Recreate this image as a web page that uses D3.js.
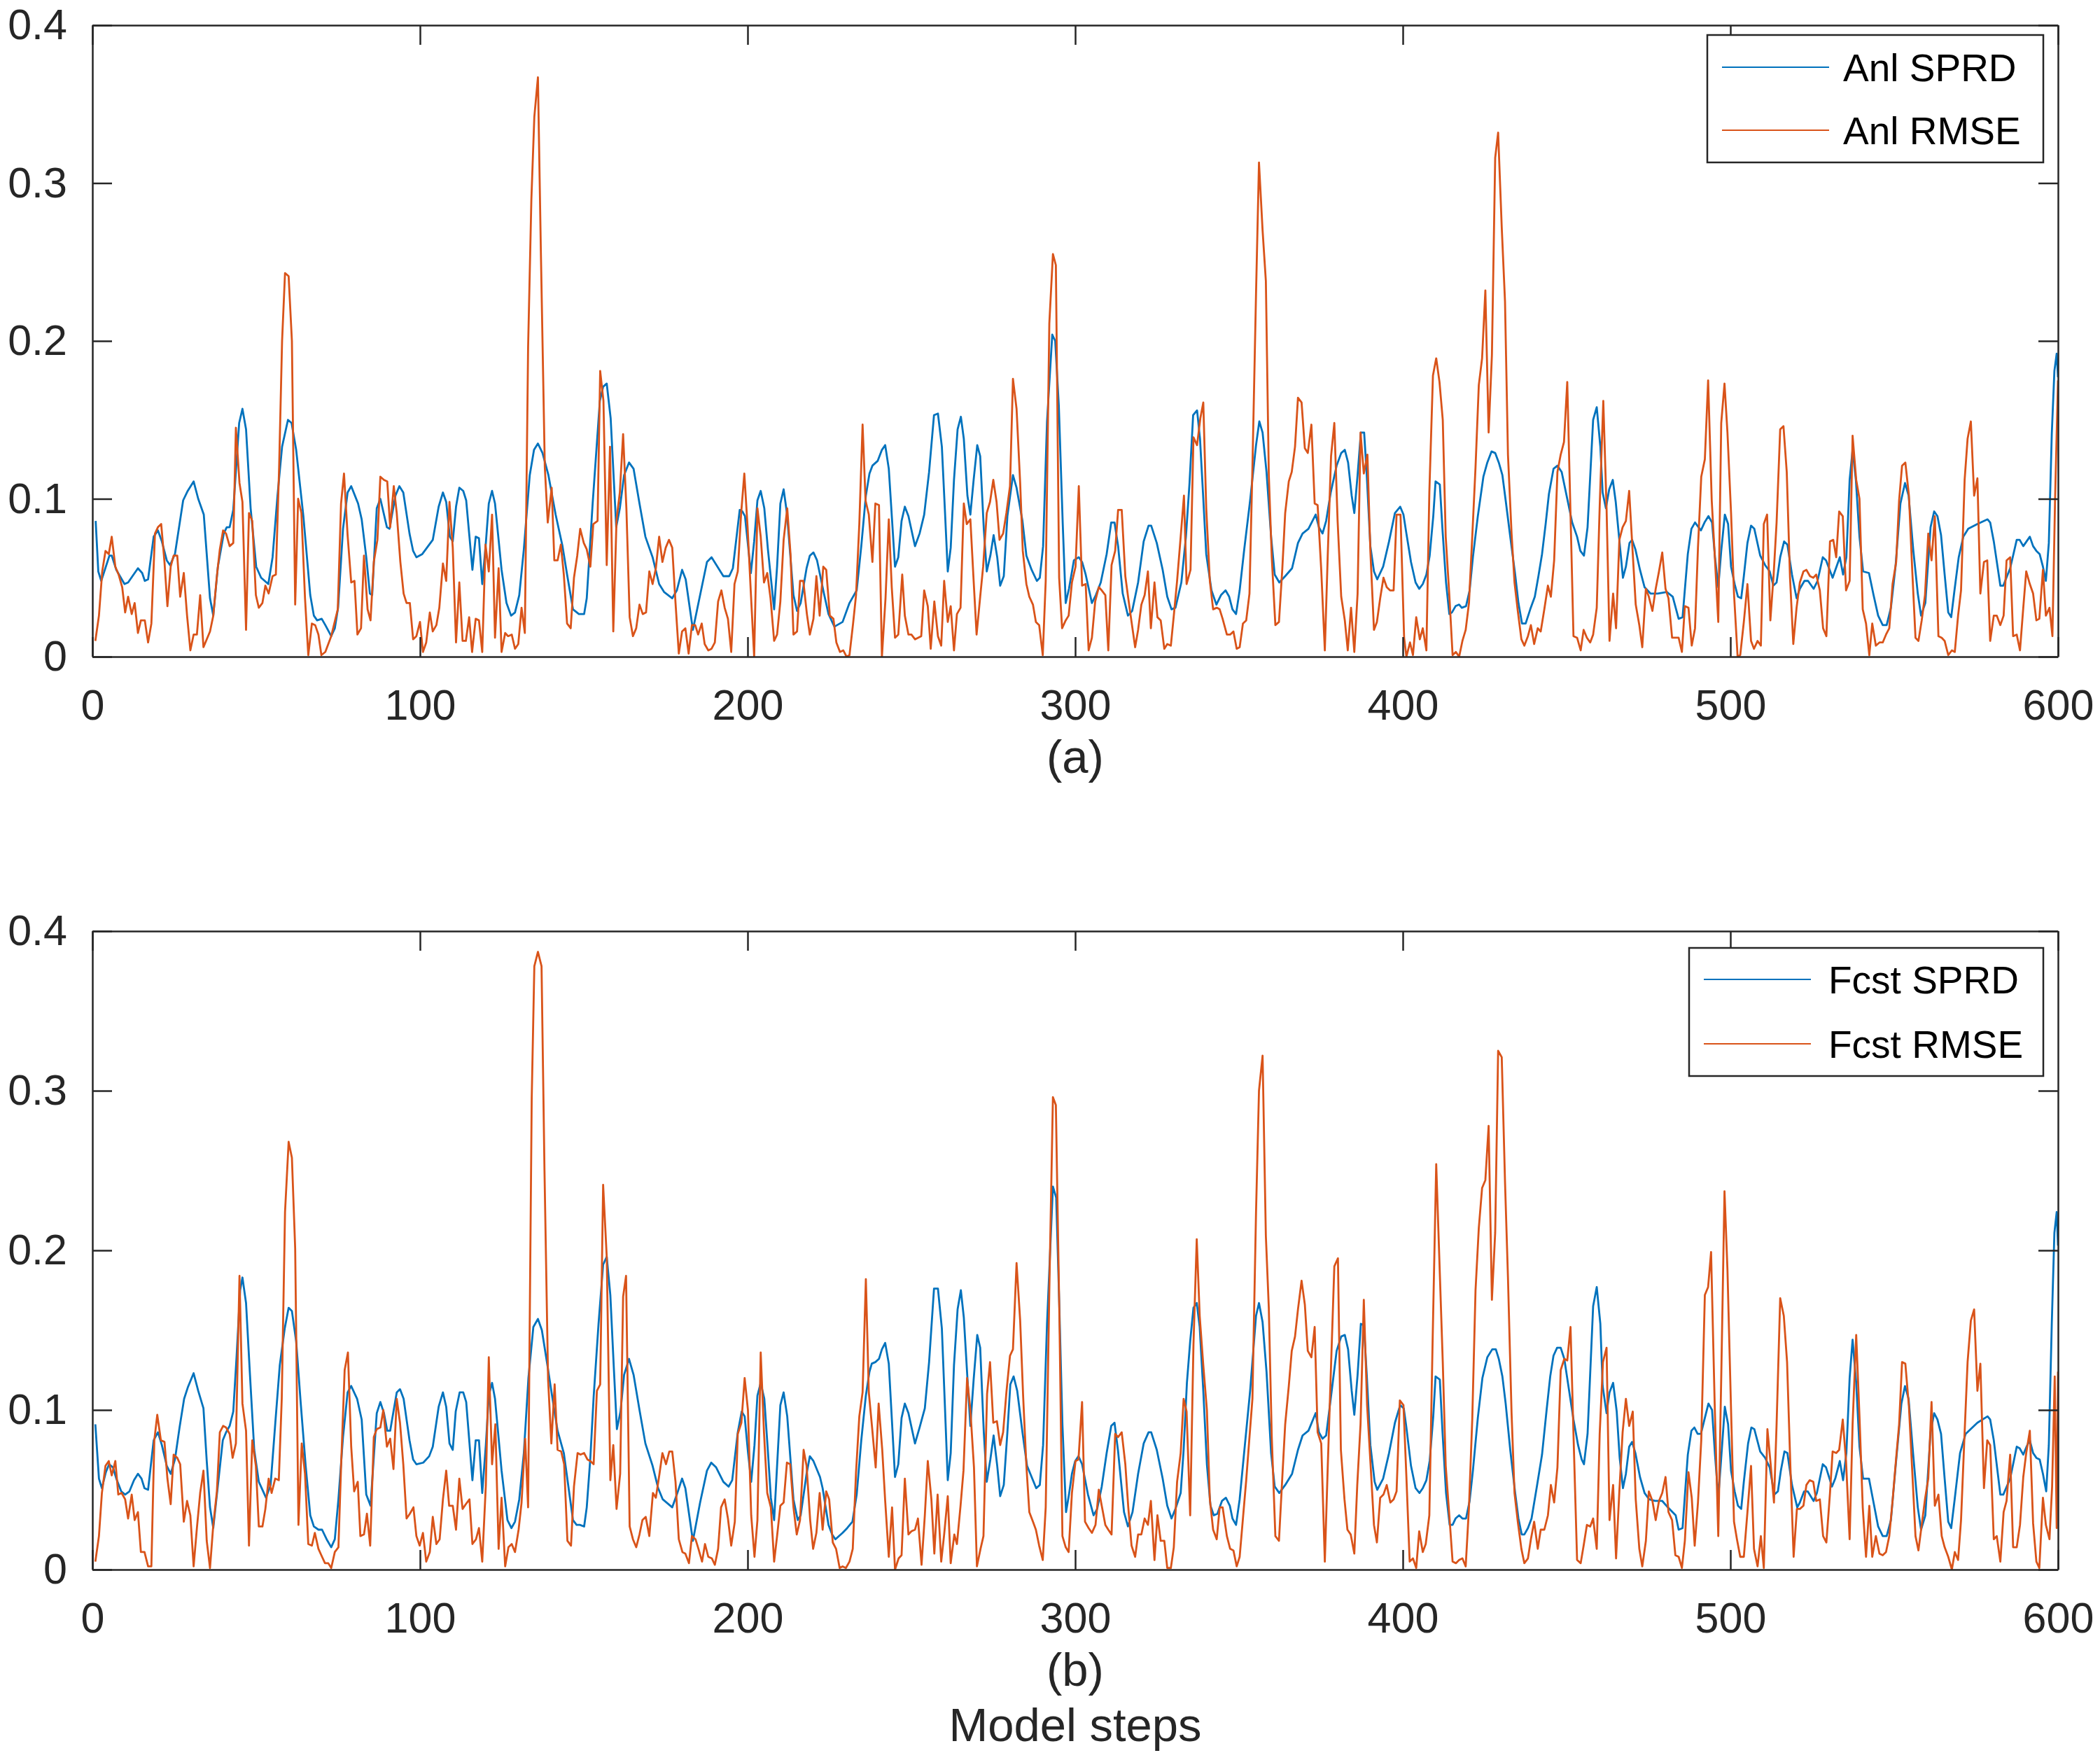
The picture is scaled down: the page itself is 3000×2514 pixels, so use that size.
<!DOCTYPE html>
<html>
<head>
<meta charset="utf-8">
<script src="https://cdn.jsdelivr.net/npm/d3@7"></script>
<style>
  body { margin: 0; background: #fff; }
  text { font-family: "Liberation Sans", Arial, Helvetica, sans-serif; }
</style>
</head>
<body>
<div id="chart"></div>
<script>
// tick values
var xTicks = [0, 100, 200, 300, 400, 500, 600];
var yTicks = [0, 0.1, 0.2, 0.3, 0.4];
var panelLabels = ["(a)", "(b)"];
var legendA = ["Anl SPRD", "Anl RMSE"];
var legendB = ["Fcst SPRD", "Fcst RMSE"];
var xTitle = "Model steps";

// [model step, value]
var anlSprd = [[1,0.086],[1.8,0.054],[2.7,0.048],[5.2,0.064],[5.9,0.064],[7.3,0.055],[9.8,0.046],[10.9,0.047],[13.9,0.056],[15.2,0.053],[16,0.048],[17,0.049],[18.7,0.076],[20,0.080],[21.2,0.073],[22.7,0.061],[23.7,0.058],[25.2,0.065],[27.7,0.099],[29.1,0.105],[30.9,0.111],[32.3,0.100],[34,0.090],[35.9,0.037],[36.9,0.026],[38.3,0.057],[40.1,0.078],[41,0.082],[41.9,0.082],[43,0.093],[44.8,0.148],[45.8,0.157],[46.9,0.144],[48.3,0.094],[50,0.057],[51.5,0.050],[53.7,0.046],[55,0.063],[56.5,0.102],[57.9,0.133],[59.7,0.150],[60.8,0.148],[62.2,0.131],[64.4,0.089],[66.5,0.039],[67.6,0.026],[68.6,0.023],[70,0.024],[71.1,0.020],[72.9,0.013],[74,0.018],[75,0.031],[76.5,0.081],[77.9,0.104],[79,0.108],[81.1,0.097],[82.2,0.087],[83.6,0.063],[84.7,0.040],[85.4,0.039],[86.8,0.094],[87.9,0.100],[89.9,0.082],[90.7,0.081],[92.5,0.102],[93.7,0.108],[94.9,0.104],[96.8,0.078],[97.9,0.067],[98.9,0.063],[100.7,0.065],[103.9,0.074],[105.7,0.095],[107,0.104],[108,0.098],[109.1,0.076],[110,0.073],[111,0.095],[112,0.107],[113.2,0.105],[114.1,0.099],[116,0.055],[117,0.076],[118,0.075],[119,0.046],[120.1,0.072],[121,0.097],[122,0.105],[122.9,0.097],[124.9,0.055],[126.4,0.034],[127.8,0.026],[129,0.028],[130.3,0.039],[131.7,0.068],[133.5,0.115],[134.8,0.131],[136,0.135],[137.4,0.129],[139.2,0.115],[141.4,0.090],[143.5,0.070],[144.9,0.052],[146.7,0.030],[148.5,0.027],[150.1,0.027],[150.9,0.037],[152.7,0.097],[154.9,0.162],[155.9,0.171],[157,0.173],[158.2,0.151],[159.9,0.082],[161,0.094],[162.3,0.115],[163.8,0.123],[165.2,0.119],[167,0.097],[168.8,0.076],[171,0.063],[173,0.046],[174.5,0.041],[177,0.037],[178.4,0.042],[180,0.055],[181.1,0.049],[183.3,0.017],[185.5,0.039],[187.6,0.060],[189,0.063],[190.5,0.058],[192.6,0.051],[194.4,0.051],[195.5,0.056],[197.6,0.093],[198.4,0.092],[199.2,0.089],[201,0.053],[202,0.073],[203,0.099],[204,0.105],[205.1,0.094],[206.2,0.068],[208.1,0.030],[209,0.057],[210,0.097],[211,0.106],[212,0.091],[214,0.039],[215.1,0.029],[216.2,0.034],[218,0.056],[219,0.064],[220.1,0.066],[221.2,0.061],[223.3,0.040],[224.7,0.027],[226.5,0.019],[229,0.022],[231.1,0.034],[233.3,0.042],[234.7,0.070],[236.1,0.102],[237.2,0.116],[238.1,0.121],[239.7,0.124],[241,0.131],[242,0.134],[243.1,0.119],[245,0.057],[246,0.063],[247,0.086],[248,0.095],[249.1,0.089],[251.1,0.070],[252.5,0.078],[253.9,0.090],[255.4,0.117],[256.9,0.153],[258.1,0.154],[259.3,0.133],[260.2,0.094],[261.1,0.054],[262,0.069],[263,0.112],[264.1,0.144],[265.1,0.152],[266,0.138],[267.1,0.102],[268,0.090],[269,0.112],[270.1,0.134],[271,0.127],[272.1,0.081],[273,0.054],[274.1,0.064],[275.1,0.077],[276.2,0.063],[277.1,0.045],[278.2,0.051],[279.3,0.089],[281,0.115],[282.1,0.107],[283.9,0.086],[285.1,0.064],[286.7,0.055],[288.3,0.048],[289.2,0.050],[290.2,0.070],[291.4,0.149],[293,0.204],[293.9,0.200],[295,0.159],[296.2,0.084],[297.1,0.034],[298.1,0.043],[299.6,0.061],[301.1,0.063],[302.1,0.060],[303.2,0.052],[305.1,0.034],[306.3,0.039],[307.8,0.047],[309.6,0.065],[311,0.085],[312,0.085],[313.1,0.070],[314.5,0.040],[316.1,0.026],[317.4,0.029],[319.2,0.047],[320.9,0.073],[322.4,0.083],[323.2,0.083],[324.9,0.072],[326.7,0.055],[328.1,0.038],[329.4,0.030],[330.6,0.031],[332.4,0.047],[333.8,0.076],[334.9,0.110],[336,0.153],[337.2,0.156],[338.1,0.138],[339,0.104],[340,0.065],[341.6,0.042],[343.1,0.033],[344.5,0.039],[345.9,0.042],[347,0.038],[348,0.030],[349.1,0.027],[350.2,0.042],[351.6,0.068],[353.4,0.099],[355.2,0.134],[356.2,0.149],[357.2,0.142],[358.4,0.117],[359.8,0.076],[360.9,0.052],[362.3,0.047],[364.1,0.051],[366.2,0.056],[368,0.072],[369.4,0.078],[371.2,0.081],[373.4,0.090],[374.4,0.082],[375.5,0.078],[376.6,0.086],[378,0.104],[379.8,0.121],[381.2,0.129],[382.3,0.131],[383.3,0.123],[384.4,0.102],[385.2,0.091],[386.2,0.115],[387.2,0.142],[388.2,0.142],[389,0.115],[390.1,0.070],[391.2,0.054],[392.2,0.049],[394,0.057],[395.8,0.073],[397.6,0.091],[399.2,0.095],[400.2,0.090],[401.1,0.078],[402.5,0.060],[403.9,0.047],[405,0.043],[406.1,0.046],[407.2,0.052],[408.2,0.064],[409.3,0.089],[410,0.111],[411.3,0.109],[412.1,0.081],[413.2,0.047],[414.2,0.027],[415,0.028],[416.1,0.032],[417.2,0.033],[418,0.031],[419.3,0.032],[420.4,0.042],[421.4,0.063],[422.9,0.089],[424.6,0.114],[425.8,0.123],[427.1,0.130],[428.2,0.129],[429.3,0.123],[430.4,0.115],[431.4,0.099],[432.8,0.076],[434.3,0.052],[435.3,0.034],[436.4,0.021],[437.5,0.021],[438.9,0.030],[440.3,0.038],[441.4,0.051],[442.5,0.065],[443.6,0.084],[444.6,0.103],[446,0.119],[447.2,0.121],[448.5,0.117],[450.3,0.099],[451.7,0.085],[453.2,0.076],[454.2,0.067],[455.3,0.064],[456.4,0.082],[458.1,0.150],[459.2,0.158],[460.3,0.133],[461,0.104],[462,0.094],[463,0.106],[464.1,0.112],[465,0.098],[466,0.076],[467.2,0.050],[468.1,0.057],[469.2,0.072],[470,0.074],[471,0.068],[472.4,0.055],[473.8,0.044],[475.6,0.040],[477.8,0.040],[480.6,0.041],[482.4,0.038],[484.2,0.024],[485.4,0.025],[487,0.065],[488.1,0.081],[489.2,0.085],[491,0.080],[492.1,0.085],[493.3,0.089],[494.4,0.085],[495.3,0.063],[496.3,0.044],[497.2,0.067],[498.3,0.090],[499.3,0.084],[500.2,0.057],[501.3,0.046],[502.3,0.038],[503.3,0.037],[504.1,0.051],[505.2,0.072],[506.3,0.083],[507.3,0.081],[509.1,0.064],[510.6,0.058],[512,0.054],[513.1,0.045],[514.1,0.047],[515.2,0.063],[516.4,0.073],[517.4,0.071],[518.8,0.052],[520.2,0.037],[521.2,0.043],[522.6,0.048],[523.7,0.048],[525.4,0.043],[526.6,0.048],[528.2,0.063],[529.2,0.061],[531.2,0.050],[533.4,0.063],[534.4,0.052],[535.4,0.063],[536.4,0.112],[537.3,0.131],[538.3,0.112],[539.4,0.076],[540.5,0.054],[542.3,0.053],[543.7,0.039],[545.1,0.026],[546.5,0.020],[547.7,0.020],[549,0.031],[550.4,0.057],[551.9,0.097],[553.3,0.110],[554.4,0.102],[555.8,0.068],[557.2,0.040],[558.2,0.026],[559.5,0.034],[561.1,0.082],[562.2,0.092],[563.2,0.089],[564.3,0.077],[565.4,0.052],[566.5,0.028],[567.4,0.025],[568.4,0.042],[569.7,0.063],[571.1,0.076],[572.6,0.081],[575.4,0.084],[578.5,0.087],[579.3,0.085],[580.4,0.073],[582.4,0.045],[583.3,0.045],[585.4,0.056],[587.4,0.074],[588.3,0.074],[589.4,0.070],[591.4,0.076],[592.4,0.070],[593.4,0.067],[594.4,0.065],[595.4,0.057],[596.3,0.048],[597.2,0.072],[598.1,0.141],[598.9,0.181],[599.6,0.192],[600,0.177]];

var anlRmse = [[0.9,0.010],[2,0.026],[3,0.054],[4,0.067],[5,0.065],[5.9,0.076],[7,0.057],[8,0.052],[9.1,0.044],[10,0.028],[10.9,0.038],[12,0.027],[12.9,0.034],[13.9,0.015],[14.8,0.023],[16,0.023],[17,0.009],[18,0.021],[19.1,0.078],[20,0.082],[21,0.084],[22,0.060],[22.9,0.032],[23.9,0.057],[24.8,0.064],[25.9,0.064],[26.8,0.038],[27.9,0.053],[28.9,0.026],[29.9,0.004],[30.9,0.014],[31.9,0.014],[32.9,0.039],[33.9,0.006],[35.9,0.016],[36.9,0.026],[38,0.051],[38.9,0.068],[39.9,0.080],[40.8,0.078],[41.9,0.070],[43,0.072],[43.8,0.145],[44.9,0.110],[45.8,0.098],[46.9,0.017],[47.8,0.091],[48.8,0.086],[49.9,0.039],[50.8,0.031],[51.9,0.034],[52.8,0.045],[53.8,0.040],[55,0.051],[56,0.052],[57,0.120],[57.9,0.200],[58.8,0.243],[59.9,0.241],[60.9,0.200],[61.9,0.033],[62.8,0.100],[63.8,0.091],[64.9,0.037],[65.9,0.001],[67,0.021],[68,0.020],[69,0.014],[69.9,0.001],[71.1,0.003],[72.9,0.013],[74.9,0.030],[75.9,0.097],[76.8,0.116],[77.9,0.077],[79,0.047],[80,0.048],[80.9,0.014],[82,0.018],[82.9,0.064],[84,0.030],[84.9,0.023],[85.9,0.060],[87,0.074],[87.9,0.114],[89,0.112],[90,0.111],[90.9,0.082],[92,0.108],[92.9,0.091],[94,0.060],[95,0.040],[95.9,0.034],[96.9,0.034],[97.9,0.011],[98.9,0.013],[100,0.022],[100.9,0.003],[101.9,0.009],[103,0.028],[103.9,0.016],[105,0.020],[105.9,0.031],[107,0.059],[108,0.048],[109,0.098],[110,0.069],[111,0.009],[112,0.047],[113,0.010],[114,0.010],[115,0.025],[115.9,0.003],[117,0.024],[118,0.023],[119,0.003],[120,0.071],[121,0.054],[122,0.090],[122.9,0.012],[124,0.056],[124.9,0.003],[126,0.015],[126.9,0.013],[128,0.014],[129,0.005],[130,0.008],[131,0.031],[132,0.015],[133,0.196],[134,0.290],[134.9,0.342],[136,0.367],[136.9,0.256],[138.1,0.120],[139,0.085],[140.2,0.107],[141,0.061],[142,0.061],[143,0.071],[143.9,0.052],[144.9,0.021],[146,0.018],[147,0.050],[148,0.064],[148.9,0.081],[150,0.072],[150.9,0.068],[152,0.057],[152.9,0.084],[154.2,0.086],[155,0.181],[156,0.162],[157,0.058],[158,0.133],[159,0.016],[160,0.087],[161,0.104],[162,0.141],[163,0.094],[164,0.025],[165,0.013],[166,0.018],[167,0.033],[168,0.027],[169,0.028],[170,0.054],[171,0.046],[172,0.056],[173,0.076],[174,0.060],[175,0.069],[176,0.074],[177,0.069],[178,0.034],[179,0.002],[180,0.016],[181,0.018],[182,0.002],[183,0.020],[184,0.020],[184.9,0.014],[186,0.021],[186.9,0.008],[188,0.004],[189,0.005],[190,0.009],[191,0.035],[192,0.042],[193,0.031],[194,0.024],[195,0.003],[196,0.046],[197,0.054],[198,0.090],[199,0.116],[200,0.082],[201,0.040],[202,0.000],[203,0.094],[204,0.076],[205,0.047],[206,0.053],[207,0.037],[208.1,0.010],[209,0.014],[210,0.035],[211,0.074],[212.1,0.094],[213.1,0.065],[214,0.014],[215.1,0.016],[216,0.048],[217,0.048],[218.1,0.027],[219,0.014],[220.1,0.024],[221,0.051],[222,0.026],[223.1,0.057],[224,0.055],[225.1,0.026],[226.2,0.024],[227.1,0.009],[228.2,0.003],[229.2,0.004],[230.2,0.000],[231.1,0.001],[232.2,0.021],[233.1,0.039],[234.1,0.084],[235.1,0.147],[236,0.099],[237,0.090],[238.1,0.060],[239,0.097],[240.1,0.096],[241,0.000],[242.1,0.037],[243.1,0.087],[244,0.044],[245,0.012],[246,0.014],[247.2,0.052],[248,0.026],[249.1,0.014],[250,0.014],[251.1,0.011],[253,0.013],[253.9,0.042],[255,0.032],[255.9,0.005],[257,0.035],[258.1,0.013],[259.1,0.007],[260,0.048],[261.1,0.022],[262,0.032],[263,0.004],[263.9,0.027],[265,0.031],[266,0.097],[266.9,0.084],[268,0.087],[269,0.048],[269.9,0.014],[271,0.038],[271.9,0.057],[273,0.091],[274,0.098],[275,0.112],[276,0.098],[276.9,0.074],[278,0.078],[279,0.091],[280.1,0.108],[281,0.176],[282.1,0.157],[283.2,0.110],[284,0.067],[285.1,0.046],[286,0.038],[287.1,0.033],[288,0.022],[289,0.020],[290.1,0.001],[291,0.048],[292.1,0.211],[293.2,0.255],[294.1,0.248],[295.1,0.050],[296,0.018],[297.1,0.023],[298,0.026],[299,0.047],[300.1,0.057],[301.1,0.108],[302.1,0.045],[303.2,0.046],[304.1,0.004],[305.1,0.012],[306.1,0.035],[307.2,0.044],[308.1,0.042],[309.2,0.039],[310.1,0.004],[311.1,0.058],[312.2,0.067],[313.1,0.093],[314.2,0.093],[315.3,0.051],[316.2,0.037],[317.2,0.022],[318.3,0.006],[319.2,0.017],[320.2,0.033],[321.2,0.039],[322.2,0.054],[323.1,0.018],[324.2,0.047],[325.1,0.025],[326.1,0.023],[327.2,0.005],[328.1,0.008],[329.2,0.007],[330.1,0.026],[331.1,0.048],[332.2,0.076],[333.2,0.102],[334,0.046],[335.2,0.055],[336.1,0.139],[337.2,0.134],[338.2,0.151],[339.1,0.161],[340,0.094],[341.1,0.048],[342.1,0.030],[343.2,0.031],[344.1,0.030],[345,0.024],[346.3,0.014],[347.3,0.014],[348.3,0.016],[349.3,0.005],[350.2,0.006],[351.2,0.021],[352.2,0.023],[353.2,0.040],[354.1,0.120],[355.2,0.230],[356.1,0.313],[357.2,0.270],[358.2,0.238],[359.1,0.115],[360,0.063],[361.1,0.020],[362.2,0.022],[363.2,0.055],[364.1,0.091],[365.2,0.111],[366.1,0.117],[367.1,0.133],[368,0.164],[369.1,0.161],[370.1,0.132],[371,0.129],[372.1,0.147],[373.1,0.097],[374,0.096],[375.1,0.055],[376.2,0.004],[377.1,0.065],[378.1,0.127],[379.1,0.148],[380.1,0.086],[381.2,0.038],[382.3,0.023],[383.2,0.004],[384.2,0.031],[385.2,0.003],[386.2,0.040],[387.1,0.142],[388.1,0.116],[389.2,0.128],[390.1,0.067],[391.2,0.017],[392.1,0.022],[393.1,0.037],[394.1,0.050],[395.1,0.044],[396.1,0.042],[397.2,0.042],[398.1,0.090],[399.3,0.090],[400.4,0.012],[401.1,0.000],[402.2,0.009],[403.1,0.001],[404.1,0.025],[405.2,0.011],[406.1,0.018],[407.2,0.004],[408.1,0.104],[409.2,0.178],[410.2,0.189],[411.2,0.174],[412.2,0.150],[413.1,0.076],[414.2,0.039],[415.2,0.001],[416.2,0.003],[417.2,0.000],[418.2,0.010],[419.2,0.017],[420.2,0.034],[421.2,0.076],[422.2,0.120],[423.2,0.172],[424.2,0.189],[425.2,0.232],[426.2,0.142],[427.2,0.191],[428.2,0.316],[429.1,0.332],[430.2,0.272],[431.2,0.225],[432.1,0.128],[433.2,0.078],[434.1,0.047],[435.1,0.029],[436.2,0.011],[437.1,0.007],[438.2,0.013],[439.1,0.020],[440.1,0.008],[441.2,0.018],[442.1,0.016],[443.2,0.030],[444.3,0.045],[445.2,0.038],[446.2,0.061],[447.2,0.117],[448.2,0.128],[449.2,0.136],[450.2,0.174],[451.2,0.090],[452.1,0.013],[453.2,0.012],[454.3,0.004],[455.2,0.017],[456.2,0.012],[457.2,0.009],[458.1,0.014],[459.2,0.031],[460.1,0.095],[461.2,0.162],[462.2,0.094],[463.1,0.010],[464.2,0.040],[465.1,0.018],[466.1,0.074],[467.1,0.082],[468.1,0.086],[469.1,0.105],[470.2,0.065],[471.1,0.033],[472.2,0.020],[473.1,0.006],[474.2,0.043],[475.1,0.038],[476.2,0.029],[477.2,0.043],[478.2,0.054],[479.2,0.066],[480.2,0.043],[481.1,0.037],[482.2,0.012],[483.2,0.012],[484.2,0.012],[485.2,0.003],[486.1,0.032],[487.2,0.031],[488.2,0.007],[489.2,0.018],[490.1,0.069],[491.1,0.114],[492.2,0.125],[493.2,0.175],[494.3,0.099],[495.2,0.065],[496.3,0.022],[497.2,0.148],[498.2,0.173],[499.1,0.142],[500.2,0.091],[501.1,0.040],[502.2,0.000],[503,0.001],[504.1,0.022],[505.2,0.046],[506.3,0.010],[507.2,0.005],[508.3,0.010],[509.3,0.007],[510.2,0.084],[511.2,0.090],[512.2,0.023],[513.2,0.052],[514.1,0.085],[515.2,0.144],[516.2,0.146],[517.2,0.117],[518.2,0.050],[519.2,0.008],[520.2,0.031],[521.2,0.047],[522.3,0.054],[523.2,0.055],[524.3,0.051],[525.3,0.050],[526.2,0.052],[527.3,0.042],[528.3,0.018],[529.3,0.013],[530.4,0.073],[531.4,0.074],[532.3,0.063],[533.2,0.092],[534.3,0.089],[535.3,0.042],[536.4,0.048],[537.3,0.140],[538.4,0.112],[539.4,0.100],[540.4,0.030],[541.4,0.021],[542.4,0.001],[543.3,0.021],[544.4,0.007],[545.5,0.009],[546.5,0.009],[547.5,0.014],[548.5,0.018],[549.5,0.046],[550.6,0.060],[551.5,0.099],[552.4,0.121],[553.4,0.123],[554.5,0.102],[555.5,0.055],[556.5,0.012],[557.4,0.010],[558.4,0.023],[559.4,0.039],[560.4,0.078],[561.4,0.061],[562.4,0.089],[563.5,0.013],[564.5,0.012],[565.4,0.010],[566.5,0.001],[567.6,0.004],[568.5,0.003],[569.5,0.026],[570.4,0.042],[571.5,0.112],[572.4,0.138],[573.4,0.149],[574.4,0.102],[575.4,0.113],[576.3,0.040],[577.4,0.060],[578.4,0.061],[579.3,0.010],[580.4,0.026],[581.3,0.026],[582.4,0.020],[583.4,0.026],[584.3,0.061],[585.4,0.063],[586.3,0.013],[587.4,0.014],[588.4,0.004],[589.4,0.031],[590.3,0.054],[591.4,0.046],[592.4,0.040],[593.4,0.023],[594.3,0.024],[595.4,0.055],[596.3,0.026],[597.4,0.031],[598.3,0.013],[599.1,0.099],[600,0.175]];

var fcstSprd = [[0.9,0.091],[2,0.057],[2.9,0.051],[4.1,0.061],[5.1,0.066],[6.3,0.064],[7.3,0.057],[8.8,0.049],[10,0.047],[11.3,0.049],[12.7,0.056],[13.9,0.060],[15,0.057],[15.9,0.051],[17,0.050],[18.7,0.081],[20,0.086],[21.2,0.078],[22.7,0.065],[23.9,0.060],[25.2,0.069],[26.6,0.089],[28,0.107],[29.1,0.114],[30.9,0.123],[32.3,0.112],[33.9,0.101],[34.9,0.068],[35.9,0.039],[36.9,0.026],[38,0.047],[39.8,0.081],[40.8,0.086],[41.9,0.090],[43,0.099],[44,0.133],[45.1,0.175],[45.8,0.183],[46.9,0.167],[48.1,0.122],[49.4,0.075],[50.8,0.055],[53,0.045],[54.4,0.053],[55.8,0.091],[57.2,0.128],[58.7,0.151],[59.9,0.164],[60.9,0.162],[62.2,0.143],[63.6,0.104],[65.1,0.065],[66.5,0.034],[67.6,0.027],[69,0.025],[70.1,0.025],[71.5,0.019],[72.9,0.014],[74,0.019],[75.1,0.044],[76.5,0.083],[77.9,0.111],[79,0.115],[80.8,0.107],[82.2,0.094],[83.6,0.047],[84.9,0.040],[86.8,0.098],[87.9,0.105],[89,0.098],[90,0.087],[90.9,0.087],[92.9,0.111],[93.9,0.113],[95,0.107],[96.8,0.081],[97.9,0.069],[98.9,0.066],[101,0.067],[102.8,0.071],[103.9,0.077],[105.7,0.102],[107,0.111],[108,0.102],[109,0.079],[110,0.075],[110.9,0.099],[112.1,0.111],[113.2,0.111],[114.1,0.105],[116,0.056],[117,0.081],[118,0.081],[119,0.048],[120.1,0.078],[121,0.109],[122,0.117],[122.9,0.107],[124.9,0.062],[126.7,0.031],[127.9,0.026],[129,0.030],[130.3,0.044],[131.7,0.073],[133.1,0.120],[134.6,0.152],[136,0.157],[137.2,0.150],[138.9,0.128],[140.6,0.105],[142,0.087],[143.9,0.073],[145.3,0.052],[146.7,0.031],[147.8,0.028],[148.8,0.028],[150.1,0.027],[150.9,0.039],[152,0.070],[153,0.108],[154.5,0.154],[155.9,0.191],[157,0.196],[158.1,0.172],[159.2,0.125],[160.1,0.088],[161.2,0.099],[162.3,0.122],[163.8,0.132],[165.2,0.122],[167,0.100],[168.8,0.079],[171,0.065],[172.7,0.051],[174.1,0.044],[177,0.039],[178.4,0.047],[180,0.057],[181,0.051],[183.3,0.018],[185.5,0.042],[187.6,0.062],[188.9,0.067],[190.4,0.064],[192.6,0.055],[194.2,0.052],[195.3,0.056],[197,0.086],[198.2,0.099],[199.1,0.096],[200.1,0.074],[201.1,0.055],[202.1,0.078],[203,0.109],[204,0.117],[205.1,0.107],[206.2,0.074],[207.1,0.045],[208.1,0.031],[209,0.065],[210,0.103],[211,0.111],[212.1,0.096],[214,0.044],[215.3,0.031],[216.2,0.034],[218,0.060],[219,0.071],[220.1,0.068],[222.1,0.058],[222.9,0.051],[224.7,0.028],[225.8,0.022],[226.8,0.019],[229,0.023],[230.4,0.026],[232,0.030],[233.3,0.047],[234.7,0.081],[236.1,0.109],[237.2,0.124],[237.9,0.129],[239,0.130],[240.1,0.132],[241,0.138],[242,0.142],[243.1,0.129],[245,0.058],[246,0.066],[247,0.095],[248,0.104],[249.1,0.098],[251.1,0.079],[252.5,0.089],[254.1,0.101],[255.4,0.130],[256.9,0.176],[258.1,0.176],[259.3,0.151],[260.2,0.104],[261.1,0.056],[262,0.073],[263,0.128],[264.1,0.163],[265.1,0.175],[266,0.158],[267.1,0.120],[268,0.090],[269,0.119],[270.1,0.147],[271,0.139],[272.1,0.086],[273,0.055],[274.1,0.069],[275.1,0.084],[276.2,0.065],[277.1,0.046],[278.2,0.053],[279.3,0.086],[280.2,0.116],[281.2,0.121],[282.3,0.112],[283.9,0.086],[285.3,0.065],[286.7,0.058],[288.1,0.051],[289.2,0.053],[290.2,0.078],[291.4,0.154],[293.2,0.240],[294.2,0.233],[295.1,0.169],[296.1,0.091],[297.2,0.036],[298.1,0.047],[299,0.060],[300,0.068],[301,0.071],[302.1,0.066],[303.9,0.047],[305.6,0.034],[306.7,0.038],[308.1,0.052],[309.6,0.073],[311,0.090],[312,0.092],[313.1,0.074],[314.9,0.036],[316.1,0.027],[317.5,0.036],[319.2,0.060],[320.9,0.079],[322.4,0.086],[323.2,0.086],[324.9,0.075],[326.7,0.057],[328.1,0.040],[329.4,0.032],[330.6,0.038],[332.2,0.048],[333.1,0.075],[334.1,0.117],[335.1,0.143],[336.1,0.164],[337.1,0.167],[338,0.152],[339.1,0.112],[340.2,0.066],[341.3,0.040],[342.3,0.034],[343.4,0.035],[344.8,0.043],[346,0.045],[347.2,0.040],[348,0.032],[349.1,0.028],[350.2,0.044],[351.6,0.074],[353.4,0.112],[355.2,0.159],[356.1,0.167],[357.2,0.155],[358.4,0.124],[359.8,0.073],[360.9,0.052],[362.3,0.048],[364.1,0.053],[366.2,0.060],[368,0.075],[369.4,0.084],[371.2,0.087],[373.4,0.098],[374.4,0.086],[375.5,0.082],[376.6,0.084],[378,0.107],[379.8,0.137],[381.2,0.146],[382.3,0.147],[383.3,0.138],[384.4,0.112],[385.2,0.097],[386.2,0.122],[387.2,0.154],[388.1,0.153],[389,0.122],[390.1,0.078],[391.4,0.055],[392.2,0.050],[394,0.057],[395.8,0.073],[397.6,0.092],[399.2,0.103],[400.3,0.101],[401.1,0.089],[402.5,0.065],[403.9,0.051],[405.1,0.048],[406.1,0.051],[407.2,0.056],[408.2,0.068],[409.3,0.096],[410,0.121],[411.3,0.119],[412.1,0.087],[413.2,0.048],[414.3,0.028],[415.2,0.028],[416.1,0.032],[417.2,0.034],[418.2,0.032],[419.3,0.032],[420.4,0.043],[421.4,0.062],[422.9,0.095],[424.3,0.120],[425.8,0.133],[427.3,0.138],[428.4,0.138],[429.3,0.132],[430.4,0.121],[431.4,0.104],[432.8,0.075],[434.3,0.048],[435.3,0.032],[436.3,0.022],[437.1,0.022],[438.2,0.026],[439.3,0.032],[441,0.053],[442.5,0.072],[443.9,0.100],[445,0.121],[446,0.134],[447.1,0.139],[448.2,0.139],[449.3,0.132],[450.7,0.113],[452.1,0.094],[453.5,0.078],[454.6,0.069],[455.3,0.066],[456.4,0.085],[458.1,0.165],[459.2,0.177],[460.3,0.154],[461,0.115],[462.2,0.098],[463.1,0.111],[464.2,0.117],[465.3,0.099],[466.2,0.070],[467.2,0.051],[468.1,0.060],[469.1,0.077],[470,0.080],[471,0.073],[472.4,0.058],[473.8,0.048],[475.2,0.044],[477,0.043],[479.2,0.043],[480.9,0.039],[483.3,0.034],[484.2,0.025],[485.4,0.026],[487,0.072],[488.1,0.087],[489,0.089],[490,0.085],[491,0.085],[492.2,0.095],[493.3,0.104],[494.4,0.100],[495.3,0.072],[496.3,0.045],[497.2,0.070],[498.3,0.102],[499.3,0.091],[500.2,0.062],[501.3,0.049],[502.3,0.040],[503.3,0.038],[504.1,0.055],[505.4,0.079],[506.4,0.089],[507.3,0.088],[509.1,0.074],[510.6,0.070],[512,0.064],[513.4,0.047],[514.5,0.049],[515.4,0.062],[516.5,0.074],[517.4,0.073],[518.8,0.053],[520.4,0.039],[521.2,0.042],[522.5,0.049],[523.6,0.049],[525.4,0.043],[526.4,0.048],[528.2,0.066],[529.2,0.064],[531,0.052],[532,0.057],[533.4,0.068],[534.4,0.056],[535.4,0.073],[536.4,0.120],[537.3,0.144],[538.4,0.117],[539.4,0.077],[540.5,0.057],[542.3,0.057],[543.7,0.042],[545.1,0.027],[546.5,0.021],[547.7,0.021],[549,0.031],[550.4,0.064],[552.2,0.104],[553.3,0.115],[554.4,0.107],[555.8,0.072],[557.2,0.039],[558.2,0.025],[559.5,0.034],[561.1,0.086],[562.2,0.098],[563.2,0.094],[564.3,0.085],[565.4,0.057],[566.5,0.030],[567.4,0.026],[568.4,0.043],[570.1,0.073],[571.8,0.085],[575.4,0.092],[578.5,0.096],[579.3,0.094],[580.4,0.081],[582.4,0.047],[583.3,0.047],[585.4,0.057],[587.4,0.077],[588.3,0.076],[589.4,0.072],[590.4,0.077],[591.4,0.081],[592.4,0.073],[593.4,0.070],[594.4,0.069],[595.4,0.060],[596.4,0.049],[597.2,0.078],[598.1,0.154],[598.9,0.211],[599.6,0.224],[600,0.203]];

var fcstRmse = [[0.9,0.005],[2,0.021],[2.9,0.048],[4,0.065],[5,0.068],[5.9,0.059],[7,0.068],[7.9,0.047],[8.9,0.048],[10,0.044],[10.9,0.032],[12,0.047],[12.9,0.031],[13.9,0.036],[14.8,0.011],[15.9,0.011],[17,0.002],[18,0.002],[18.9,0.081],[19.8,0.097],[20.9,0.081],[22,0.080],[22.9,0.057],[23.9,0.041],[24.8,0.072],[25.9,0.070],[26.8,0.066],[27.9,0.030],[28.9,0.043],[29.9,0.034],[30.9,0.002],[31.9,0.026],[32.9,0.048],[33.9,0.062],[34.9,0.018],[35.9,0.001],[36.9,0.028],[38,0.049],[38.9,0.086],[39.9,0.090],[40.8,0.089],[41.9,0.085],[42.8,0.070],[43.8,0.079],[44.9,0.184],[45.8,0.104],[46.9,0.087],[47.8,0.015],[48.8,0.081],[49.9,0.065],[50.8,0.027],[51.9,0.027],[52.8,0.038],[53.8,0.057],[54.7,0.048],[55.8,0.057],[56.9,0.056],[57.8,0.107],[58.8,0.224],[59.9,0.268],[60.9,0.258],[61.9,0.201],[62.9,0.028],[63.9,0.079],[64.9,0.060],[65.9,0.016],[67,0.015],[67.9,0.023],[69,0.013],[70.1,0.008],[71,0.004],[72,0.004],[72.9,0.001],[74,0.011],[75.1,0.014],[75.9,0.064],[77,0.125],[78,0.136],[79,0.077],[79.9,0.049],[81,0.055],[81.8,0.021],[82.9,0.022],[83.8,0.035],[84.8,0.015],[85.9,0.083],[86.8,0.088],[87.9,0.089],[88.8,0.100],[89.9,0.077],[90.9,0.082],[91.9,0.063],[92.9,0.107],[93.9,0.092],[94.9,0.066],[95.9,0.032],[96.9,0.035],[98,0.039],[98.9,0.021],[99.9,0.015],[100.9,0.023],[101.9,0.005],[103,0.011],[103.9,0.033],[105,0.016],[106,0.019],[107,0.044],[108,0.062],[108.9,0.040],[110,0.040],[111,0.025],[112,0.057],[113,0.038],[114,0.041],[115.1,0.044],[116,0.016],[117.1,0.019],[118,0.026],[119,0.005],[120.1,0.053],[121,0.133],[122,0.066],[123,0.091],[124,0.013],[124.9,0.045],[126,0.002],[127,0.014],[128,0.016],[129,0.011],[130.1,0.025],[131,0.042],[132.1,0.082],[133,0.039],[134.1,0.295],[134.9,0.378],[136,0.387],[137.1,0.378],[138,0.250],[139.1,0.119],[140.1,0.079],[141.1,0.116],[142,0.075],[143.1,0.074],[144,0.066],[145,0.018],[146.1,0.015],[147,0.052],[148.1,0.073],[149,0.072],[150.1,0.073],[151.1,0.069],[152,0.068],[153,0.066],[154,0.112],[155,0.116],[155.9,0.241],[157,0.196],[158.1,0.056],[159,0.078],[160,0.038],[161.1,0.060],[162,0.171],[162.9,0.184],[164,0.027],[165,0.019],[166,0.014],[167,0.022],[167.9,0.031],[168.9,0.033],[170,0.021],[171.1,0.048],[172,0.045],[173.1,0.060],[174,0.073],[175.1,0.066],[176.1,0.074],[177,0.074],[178,0.055],[179,0.019],[180.1,0.011],[181,0.010],[182.1,0.004],[183,0.021],[184.1,0.019],[185,0.013],[186.1,0.005],[187,0.016],[188,0.008],[189.1,0.007],[190,0.003],[191,0.013],[191.9,0.039],[193,0.044],[194,0.032],[195,0.015],[196.1,0.030],[197,0.085],[198.1,0.092],[199.1,0.120],[200.1,0.100],[201.1,0.034],[202.1,0.008],[203,0.031],[204,0.136],[205,0.086],[206,0.048],[207.1,0.039],[208.1,0.005],[209,0.021],[210,0.040],[211,0.042],[212,0.067],[213,0.066],[214,0.039],[215,0.022],[216,0.031],[217.1,0.075],[218,0.065],[219.1,0.031],[220,0.013],[221,0.023],[222,0.048],[222.9,0.025],[224,0.049],[224.9,0.044],[226,0.017],[227,0.013],[228.1,0.001],[229,0.002],[230,0.001],[231.1,0.005],[232.1,0.013],[233.1,0.061],[234.1,0.096],[235.1,0.111],[236.1,0.182],[237,0.111],[238,0.089],[239.1,0.064],[240,0.104],[241.1,0.075],[242,0.043],[243.1,0.008],[244.1,0.039],[245,0.000],[246.1,0.007],[247,0.009],[248,0.057],[249.1,0.022],[250,0.024],[251.1,0.025],[252,0.032],[253.1,0.003],[254.1,0.034],[255,0.068],[256.1,0.044],[257,0.010],[258,0.047],[259.1,0.005],[260,0.022],[261.1,0.046],[262,0.004],[263.1,0.022],[263.9,0.016],[265,0.040],[265.9,0.062],[267,0.120],[268,0.100],[269.1,0.064],[270,0.002],[271.1,0.013],[272,0.021],[273.1,0.110],[274,0.130],[275,0.092],[276.1,0.093],[277.1,0.078],[278,0.086],[279,0.111],[280.1,0.134],[281,0.138],[282.1,0.192],[283.2,0.156],[284.1,0.109],[285.1,0.065],[286,0.036],[287.1,0.030],[288,0.025],[289,0.015],[290.1,0.006],[291,0.039],[292.1,0.175],[293.2,0.296],[294.1,0.291],[295.2,0.156],[296.1,0.021],[297.1,0.014],[298,0.011],[299,0.048],[300.1,0.068],[301,0.069],[302.1,0.105],[303,0.030],[304.1,0.026],[305.1,0.023],[306.2,0.028],[307.2,0.050],[308.1,0.040],[309.2,0.028],[310.1,0.025],[311.1,0.022],[312.2,0.085],[313.1,0.083],[314.2,0.086],[315.3,0.066],[316.2,0.039],[317.2,0.015],[318.3,0.008],[319.2,0.022],[320.2,0.022],[321.2,0.032],[322.2,0.028],[323.1,0.043],[324.2,0.006],[325.1,0.034],[326.1,0.018],[327.2,0.018],[328.1,0.001],[329.2,0.001],[330.1,0.014],[331.1,0.055],[332.2,0.073],[333.1,0.107],[334,0.099],[335.1,0.034],[336.1,0.141],[337.1,0.207],[338,0.159],[339.1,0.128],[340.2,0.100],[341.1,0.044],[342.1,0.025],[343.2,0.019],[344.1,0.039],[345,0.039],[346.3,0.021],[347.3,0.013],[348.3,0.012],[349.3,0.002],[350.2,0.008],[351.2,0.032],[352.2,0.056],[353.2,0.083],[354.1,0.107],[355.2,0.224],[356.1,0.300],[357.2,0.322],[358.2,0.209],[359.1,0.164],[360,0.083],[361.1,0.021],[362.2,0.018],[363.2,0.057],[364.1,0.091],[365.2,0.115],[366.1,0.137],[367.1,0.146],[368,0.163],[369.1,0.181],[370.1,0.166],[371,0.137],[372.1,0.133],[373.1,0.152],[374,0.086],[375.1,0.079],[376.2,0.005],[377.1,0.065],[378.1,0.128],[379.1,0.190],[380.2,0.195],[381.1,0.075],[382.2,0.044],[383.1,0.025],[384.1,0.022],[385.2,0.010],[386.1,0.053],[387.1,0.091],[388.1,0.169],[389.1,0.103],[390.1,0.068],[391.2,0.028],[392.1,0.017],[393.1,0.045],[394.1,0.047],[395.1,0.053],[396.2,0.042],[397.2,0.044],[398.1,0.049],[399.1,0.106],[400.2,0.103],[401.1,0.058],[402.1,0.005],[403.1,0.007],[404.1,0.001],[405,0.024],[406.1,0.011],[407,0.016],[408.1,0.034],[409.1,0.143],[410.2,0.254],[411.1,0.198],[412.2,0.130],[413.1,0.065],[414.2,0.034],[415.2,0.005],[416.2,0.004],[417.2,0.006],[418.2,0.007],[419.2,0.002],[420.2,0.039],[421.2,0.094],[422.2,0.175],[423.2,0.214],[424.2,0.239],[425.2,0.244],[426.2,0.278],[427.2,0.169],[428.2,0.211],[429.1,0.325],[430.2,0.321],[431.2,0.243],[432.1,0.183],[433.2,0.098],[434.1,0.048],[435.1,0.030],[436.2,0.013],[437.1,0.004],[438.2,0.007],[439.1,0.019],[440.1,0.030],[441.2,0.013],[442.1,0.025],[443.2,0.025],[444.3,0.034],[445.2,0.053],[446.2,0.042],[447.2,0.064],[448.2,0.125],[449.3,0.132],[450.2,0.131],[451.2,0.152],[452.1,0.085],[453.2,0.006],[454.3,0.004],[455.2,0.015],[456.2,0.028],[457.2,0.027],[458.1,0.032],[459.2,0.013],[460.1,0.085],[461.1,0.130],[462.2,0.139],[463.1,0.031],[464.2,0.053],[465.1,0.007],[466.1,0.049],[467.1,0.086],[468.1,0.107],[469.1,0.090],[470.2,0.099],[471.1,0.044],[472.2,0.013],[473.1,0.002],[474.2,0.018],[475.1,0.049],[476.2,0.043],[477.2,0.031],[478.2,0.043],[479.2,0.048],[480.2,0.058],[481.1,0.036],[482.2,0.031],[483.2,0.009],[484.2,0.008],[485.2,0.001],[486.1,0.018],[487.2,0.061],[488.2,0.045],[489.1,0.015],[490.1,0.042],[491.1,0.081],[492.2,0.172],[493.2,0.177],[494.1,0.199],[495.2,0.104],[496.3,0.021],[497.2,0.120],[498.2,0.237],[499.1,0.188],[500.2,0.100],[501.1,0.030],[502,0.019],[503,0.008],[504.1,0.008],[505.2,0.036],[506.3,0.065],[507.2,0.013],[508.3,0.002],[509.3,0.021],[510.2,0.001],[511.3,0.088],[512.2,0.068],[513.3,0.042],[514.1,0.091],[515.2,0.170],[516.3,0.159],[517.3,0.130],[518.3,0.065],[519.3,0.008],[520.3,0.038],[521.2,0.038],[522.3,0.040],[523.2,0.053],[524.2,0.056],[525.3,0.055],[526.2,0.043],[527.3,0.044],[528.3,0.021],[529.3,0.017],[530.4,0.048],[531.2,0.074],[532.3,0.073],[533.2,0.075],[534.3,0.094],[535.3,0.068],[536.4,0.019],[537.3,0.091],[538.4,0.147],[539.4,0.096],[540.4,0.039],[541.4,0.008],[542.4,0.040],[543.3,0.008],[544.4,0.021],[545.5,0.010],[546.5,0.009],[547.5,0.011],[548.5,0.021],[549.5,0.043],[550.6,0.070],[551.5,0.091],[552.4,0.130],[553.4,0.129],[554.5,0.102],[555.5,0.062],[556.5,0.021],[557.4,0.012],[558.4,0.028],[559.4,0.044],[560.4,0.057],[561.4,0.105],[562.4,0.040],[563.5,0.047],[564.5,0.021],[565.4,0.014],[566.5,0.008],[567.6,0.000],[568.5,0.011],[569.5,0.006],[570.4,0.031],[571.5,0.086],[572.4,0.130],[573.4,0.156],[574.4,0.163],[575.4,0.112],[576.3,0.129],[577.4,0.051],[578.4,0.081],[579.3,0.078],[580.4,0.019],[581.3,0.021],[582.4,0.005],[583.4,0.036],[584.3,0.043],[585.4,0.072],[586.3,0.014],[587.4,0.014],[588.4,0.028],[589.4,0.058],[590.3,0.073],[591.4,0.087],[592.4,0.029],[593.4,0.005],[594.3,0.001],[595.4,0.045],[596.3,0.028],[597.4,0.019],[598.2,0.052],[599,0.121],[599.6,0.026],[600,0.124]];

var blue = "#0072BD", orange = "#D95319", axisColor = "#262626";

var svg = d3.select("#chart").append("svg")
  .attr("width", 3000)
  .attr("height", 2514)
  .style("display", "block");

svg.append("rect").attr("width", 3000).attr("height", 2514).attr("fill", "#fff");

var x = d3.scaleLinear().domain([0, 600]).range([132, 2940]);

// Function to draw one panel
function drawPanel(top, bottom, sprd, rmse, names, label, legendBox, idx) {
  var y = d3.scaleLinear().domain([0, 0.4]).range([bottom, top]);
  var g = svg.append("g");

  var clipId = "clip" + idx;
  svg.append("clipPath").attr("id", clipId)
    .append("rect")
    .attr("x", x(0)).attr("y", top)
    .attr("width", x(600) - x(0)).attr("height", bottom - top);

  var line = d3.line()
    .x(function(d) { return x(d[0]); })
    .y(function(d) { return y(d[1]); });

  var lines = g.append("g").attr("clip-path", "url(#" + clipId + ")");
  lines.append("path").datum(sprd)
    .attr("d", line).attr("fill", "none")
    .attr("stroke", blue).attr("stroke-width", 2.8)
    .attr("stroke-linejoin", "round");
  lines.append("path").datum(rmse)
    .attr("d", line).attr("fill", "none")
    .attr("stroke", orange).attr("stroke-width", 2.8)
    .attr("stroke-linejoin", "round");

  // axes, ticks pointing inward on all four sides
  var fmt = function(d) { return d3.format("~g")(d); };
  var bottomAxis = g.append("g")
    .attr("transform", "translate(0," + bottom + ")")
    .call(d3.axisBottom(x).tickValues(xTicks).tickSizeInner(-28).tickSizeOuter(0).tickPadding(47).tickFormat(fmt));
  var leftAxis = g.append("g")
    .attr("transform", "translate(" + x(0) + ",0)")
    .call(d3.axisLeft(y).tickValues(yTicks).tickSizeInner(-28).tickSizeOuter(0).tickPadding(36).tickFormat(fmt));
  var topAxis = g.append("g")
    .attr("transform", "translate(0," + top + ")")
    .call(d3.axisTop(x).tickValues(xTicks).tickSizeInner(-28).tickSizeOuter(0).tickFormat(""));
  var rightAxis = g.append("g")
    .attr("transform", "translate(" + x(600) + ",0)")
    .call(d3.axisRight(y).tickValues(yTicks).tickSizeInner(-28).tickSizeOuter(0).tickFormat(""));

  [bottomAxis, leftAxis, topAxis, rightAxis].forEach(function(a) {
    a.selectAll("path").attr("stroke", axisColor).attr("stroke-width", 2.5);
    a.selectAll("line").attr("stroke", axisColor).attr("stroke-width", 2.5);
    a.selectAll("text").attr("fill", axisColor).style("font-size", "61px")
      .style("font-family", "'Liberation Sans', Arial, sans-serif");
  });

  g.append("text")
    .attr("x", (x(0) + x(600)) / 2)
    .attr("y", bottom + 166)
    .attr("text-anchor", "middle")
    .attr("fill", axisColor)
    .style("font-size", "67px")
    .text(label);

  // Add legend
  var lg = g.append("g");
  lg.append("rect")
    .attr("x", legendBox.x0).attr("y", legendBox.y0)
    .attr("width", legendBox.x1 - legendBox.x0)
    .attr("height", legendBox.y1 - legendBox.y0)
    .attr("fill", "#fff").attr("stroke", axisColor).attr("stroke-width", 2.5);
  [blue, orange].forEach(function(c, i) {
    var ly = legendBox.rows[i];
    lg.append("line")
      .attr("x1", legendBox.lx0).attr("x2", legendBox.lx1)
      .attr("y1", ly).attr("y2", ly)
      .attr("stroke", c).attr("stroke-width", 2);
    lg.append("text")
      .attr("x", legendBox.tx)
      .attr("y", ly)
      .attr("dy", "0.36em")
      .attr("fill", "#000")
      .style("font-size", "55px")
      .text(names[i]);
  });
}

drawPanel(36, 938, anlSprd, anlRmse, legendA, panelLabels[0],
  {x0: 2439, y0: 50, x1: 2919, y1: 232, lx0: 2460, lx1: 2613, tx: 2633, rows: [96, 186]}, 0);
drawPanel(1330, 2242, fcstSprd, fcstRmse, legendB, panelLabels[1],
  {x0: 2413, y0: 1354, x1: 2919, y1: 1537, lx0: 2434, lx1: 2587, tx: 2612, rows: [1399, 1491]}, 1);

svg.append("text")
  .attr("x", (x(0) + x(600)) / 2)
  .attr("y", 2487)
  .attr("text-anchor", "middle")
  .attr("fill", axisColor)
  .style("font-size", "67px")
  .text(xTitle);
</script>
</body>
</html>
